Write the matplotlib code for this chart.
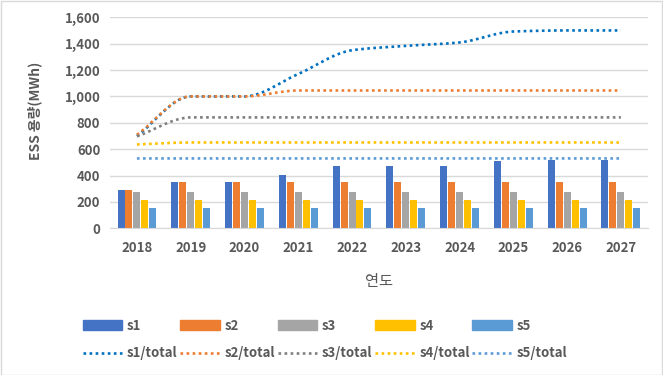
import matplotlib
matplotlib.use("Agg")
import matplotlib.pyplot as plt
from matplotlib.path import Path
from matplotlib.patches import PathPatch, Rectangle
from matplotlib.lines import Line2D
from matplotlib.ticker import FuncFormatter
import numpy as np

plt.rcParams['font.family'] = ['Noto Sans CJK KR', 'DejaVu Sans']

years = ['2018', '2019', '2020', '2021', '2022', '2023', '2024', '2025', '2026', '2027']
s1 = [290, 351, 351, 404, 472, 472, 472, 507, 517, 517]
s2 = [290, 351, 351, 351, 351, 351, 351, 351, 351, 351]
s3 = [275, 275, 275, 275, 275, 275, 275, 275, 275, 275]
s4 = [214, 214, 214, 214, 214, 214, 214, 214, 214, 214]
s5 = [153, 153, 153, 153, 153, 153, 153, 153, 153, 153]
t1 = [700, 1000, 1000, 1170, 1350, 1383, 1409, 1492, 1500, 1500]
t2 = [709, 1000, 1000, 1045, 1045, 1045, 1045, 1045, 1045, 1045]
t3 = [697, 841, 841, 841, 841, 841, 841, 841, 841, 841]
t4 = [636, 651, 651, 651, 651, 651, 651, 651, 651, 651]
t5 = [530, 530, 530, 530, 530, 530, 530, 530, 530, 530]

bar_series = [s1, s2, s3, s4, s5]
bar_names = ['s1', 's2', 's3', 's4', 's5']
bar_colors = ['#4472C4', '#ED7D31', '#A5A5A5', '#FFC000', '#5B9BD5']
line_series = [t1, t2, t3, t4, t5]
line_names = ['s1/total', 's2/total', 's3/total', 's4/total', 's5/total']
line_colors = ['#0070C0', '#ED7D31', '#7F7F7F', '#FFC000', '#5B9BD5']

txt = '#595959'
fig = plt.figure(figsize=(6.63, 3.75), dpi=100)
ax = fig.add_axes([0.166, 0.391, 0.811, 0.563])

x = np.arange(len(years))
step = 0.148
bw = 0.13
for i, (vals, c) in enumerate(zip(bar_series, bar_colors)):
    ax.bar(x + (i - 2) * step, vals, width=bw, color=c, zorder=2)


def smooth_path(xs, ys):
    xs = np.asarray(xs, float)
    ys = np.asarray(ys, float)
    n = len(xs)
    d = np.diff(ys) / np.diff(xs)
    m = np.zeros(n)
    m[0], m[-1] = d[0], d[-1]
    for i in range(1, n - 1):
        if d[i - 1] * d[i] <= 0:
            m[i] = 0.0
        else:
            m[i] = 2.0 / (1.0 / d[i - 1] + 1.0 / d[i])
    verts = [(xs[0], ys[0])]
    codes = [Path.MOVETO]
    for i in range(n - 1):
        h = xs[i + 1] - xs[i]
        verts += [(xs[i] + h / 3, ys[i] + m[i] * h / 3),
                  (xs[i + 1] - h / 3, ys[i + 1] - m[i + 1] * h / 3),
                  (xs[i + 1], ys[i + 1])]
        codes += [Path.CURVE4] * 3
    return Path(verts, codes)


for vals, c in zip(line_series, line_colors):
    patch = PathPatch(smooth_path(x, vals), fill=False, edgecolor=c, lw=1.9,
                      linestyle=(0, (1, 1.3)), capstyle='butt', zorder=3)
    ax.add_patch(patch)

ax.set_xlim(-0.5, len(years) - 0.5)
ax.set_ylim(0, 1600)
ax.set_yticks(np.arange(0, 1601, 200))
ax.yaxis.set_major_formatter(FuncFormatter(lambda v, p: f'{int(v):,}'))
ax.set_xticks(x)
ax.set_xticklabels(years)
ax.grid(axis='y', color='#D9D9D9', lw=1, zorder=0)
for s in ['top', 'right', 'left']:
    ax.spines[s].set_visible(False)
ax.spines['bottom'].set_color('#D9D9D9')
ax.tick_params(axis='both', length=0, colors=txt, labelsize=9.5, pad=7)
for lab in ax.get_xticklabels() + ax.get_yticklabels():
    lab.set_fontweight('bold')
ax.tick_params(axis='x', pad=9)

fig.text(0.053, 0.705, 'ESS 용량(MWh)', rotation=90, ha='center', va='center',
         color=txt, fontsize=10, fontweight='bold')
fig.text(0.572, 0.25, '연도', ha='center', va='center', color=txt, fontsize=11)

handles = []
labels = []
for i in range(5):
    handles.append(Rectangle((0, 0), 1, 1, color=bar_colors[i]))
    labels.append(bar_names[i])
    handles.append(Line2D([], [], color=line_colors[i], lw=1.9, linestyle=(0, (1, 1.3))))
    labels.append(line_names[i])

leg = fig.legend(handles, labels, ncol=5, loc='upper left', bbox_to_anchor=(0.115, 0.168),
                 frameon=False, handlelength=3.0, handleheight=0.8, handletextpad=0.35,
                 columnspacing=0.2, labelspacing=1.05, borderpad=0,
                 prop={'family': ['Noto Sans CJK KR', 'DejaVu Sans'], 'weight': 'bold', 'size': 9.5})
for t in leg.get_texts():
    t.set_color(txt)

fig.patches.append(Rectangle((0.5 / 663, 0.5 / 375), 1 - 1.5 / 663, 1 - 1.5 / 375,
                             transform=fig.transFigure, fill=False, edgecolor='#D9D9D9', lw=1))

fig.savefig('out.png', dpi=100)
